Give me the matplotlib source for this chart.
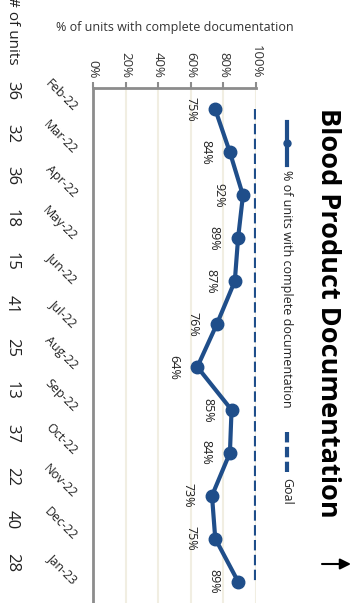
import matplotlib
matplotlib.use("Agg")
import matplotlib.pyplot as plt
from matplotlib.lines import Line2D
from matplotlib.transforms import blended_transform_factory

plt.rcParams['font.family'] = ['Open Sans', 'DejaVu Sans']
plt.rcParams['lines.scale_dashes'] = False

months = ["Feb-22", "Mar-22", "Apr-22", "May-22", "Jun-22", "Jul-22",
          "Aug-22", "Sep-22", "Oct-22", "Nov-22", "Dec-22", "Jan-23"]
pct_complete = [75, 84, 92, 89, 87, 76, 64, 85, 84, 73, 75, 89]
goal = [100] * 12
n_units = [36, 32, 36, 18, 15, 41, 25, 13, 37, 22, 40, 28]
pct_ticks = [0, 20, 40, 60, 80, 100]

BLUE = "#1F4E8A"
GRID = "#F1EEE2"
AXIS = "#8C8C8C"

W, H = 361, 603
fig = plt.figure(figsize=(W / 100, H / 100), dpi=100)

# chart is laid out sideways: months run down, percent runs left->right
ax = fig.add_axes([93 / W, 0, (256 - 93) / W, (H - 88) / H])
ypos = list(range(len(months)))
ax.set_xlim(0, 100)
ax.set_ylim(len(months) - 0.5, -0.5)

for t in pct_ticks[1:]:
    ax.axvline(t, color=GRID, lw=1.5, zorder=0)

ax.plot(goal, ypos, color=BLUE, lw=3, dashes=(7.5, 3.2), zorder=2)
ax.plot(pct_complete, ypos, color=BLUE, lw=3, marker="o", ms=9, zorder=3)

for v, y in zip(pct_complete, ypos):
    ax.annotate(f"{v}%", (v, y), xytext=(-24, 0), textcoords="offset pixels",
                rotation=270, ha="center", va="center", fontsize=9, color="#222222")

for s in ["right", "bottom"]:
    ax.spines[s].set_visible(False)
ax.spines["left"].set_color(AXIS)
ax.spines["left"].set_linewidth(2)
ax.spines["top"].set_color(AXIS)
ax.spines["top"].set_linewidth(2)

ax.xaxis.tick_top()
ax.set_xticks(pct_ticks)
ax.set_xticklabels([f"{t}%" for t in pct_ticks], rotation=270, fontsize=9.5, color="#333333")
ax.tick_params(axis="x", length=4, width=1.5, color=AXIS, pad=3)

ax.set_yticks(ypos)
ax.set_yticklabels(months, rotation=-45, rotation_mode="anchor", ha="right", va="center",
                   fontsize=9, color="#222222")
ax.tick_params(axis="y", length=0, pad=13)

fig.text(175 / W, 1 - 28 / H, "% of units with complete documentation",
         ha="center", va="center", fontsize=9, color="#333333")

# units count column
tr = blended_transform_factory(fig.transFigure, ax.transData)
for n, y in zip(n_units, ypos):
    ax.text(12 / W, y - 0.45, str(n), transform=tr, rotation=270, ha="center", va="center",
            fontsize=12, color="#222222")
fig.text(12 / W, 1 - 65 / H, "# of units", rotation=270, ha="center", va="bottom",
         fontsize=11, color="#222222")

# legend, drawn sideways
fig.add_artist(Line2D([287 / W, 287 / W], [1 - 122 / H, 1 - 165 / H], color=BLUE, lw=3,
                      transform=fig.transFigure))
fig.add_artist(Line2D([287 / W], [1 - 143 / H], color=BLUE, marker="o", ms=5,
                      transform=fig.transFigure))
fig.text(287 / W, 1 - 170 / H, "% of units with complete documentation", rotation=270,
         ha="center", va="top", fontsize=9, color="#222222")
fig.add_artist(Line2D([287 / W, 287 / W], [1 - 432 / H, 1 - 472 / H], color=BLUE, lw=3,
                      dashes=(7.5, 3.2), transform=fig.transFigure))
fig.text(287 / W, 1 - 478 / H, "Goal", rotation=270, ha="center", va="top",
         fontsize=9, color="#222222")

fig.text(328 / W, 1 - 108 / H, "Blood Product Documentation", rotation=270,
         ha="center", va="top", fontsize=19.5, fontweight="bold", color="black")
fig.add_artist(plt.Annotation("", xy=(351 / W, 1 - 564 / H), xytext=(322 / W, 1 - 564 / H),
                              xycoords=fig.transFigure, textcoords=fig.transFigure,
                              arrowprops=dict(arrowstyle="-|>", color="black", lw=1.5,
                                              mutation_scale=16, shrinkA=0, shrinkB=0)))

fig.savefig("out.png", dpi=100)
